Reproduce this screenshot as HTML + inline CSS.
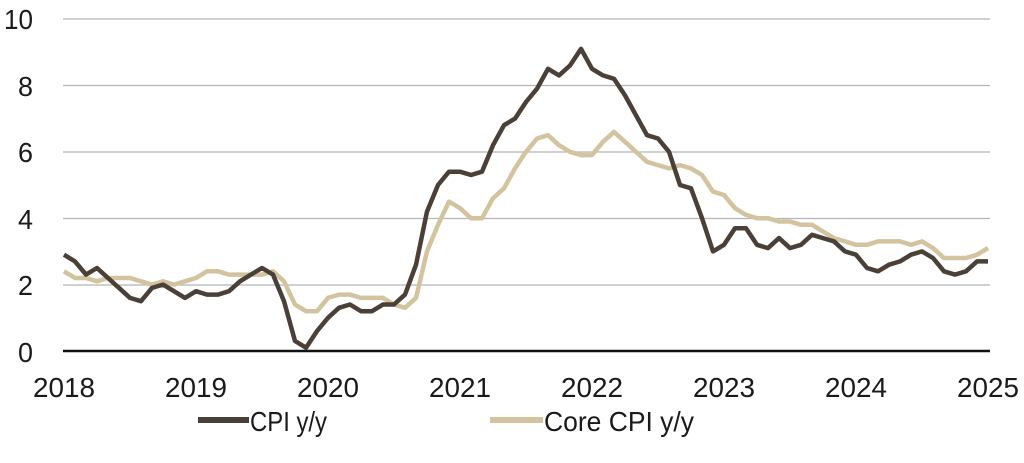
<!DOCTYPE html>
<html><head><meta charset="utf-8"><style>
html,body{margin:0;padding:0;background:#fff;width:1024px;height:463px;overflow:hidden}
svg text{font-family:"Liberation Sans Narrow","Liberation Sans",sans-serif;fill:#1a1a1a}
</style></head><body>
<svg id="c" width="1024" height="463" viewBox="0 0 1024 463">
<g stroke="#b5b5b5" stroke-width="1.3">
<line x1="63" x2="990" y1="19" y2="19"/><line x1="63" x2="990" y1="85.5" y2="85.5"/>
<line x1="63" x2="990" y1="152" y2="152"/><line x1="63" x2="990" y1="218.5" y2="218.5"/>
<line x1="63" x2="990" y1="285" y2="285"/>
</g>
<g font-size="28" text-anchor="end" lengthAdjust="spacingAndGlyphs">
<text x="33" y="29" textLength="29" lengthAdjust="spacingAndGlyphs">10</text>
<text x="33" y="96" textLength="15" lengthAdjust="spacingAndGlyphs">8</text>
<text x="33" y="162" textLength="15" lengthAdjust="spacingAndGlyphs">6</text>
<text x="33" y="229" textLength="15" lengthAdjust="spacingAndGlyphs">4</text>
<text x="33" y="295" textLength="15" lengthAdjust="spacingAndGlyphs">2</text>
<text x="33" y="362" textLength="15" lengthAdjust="spacingAndGlyphs">0</text>
</g>
<g font-size="28" text-anchor="middle" id="xl"></g>
<polyline id="core" fill="none" stroke="#d3c39f" stroke-width="4.5" stroke-linejoin="round"/>
<polyline id="cpi" fill="none" stroke="#4a4037" stroke-width="4.5" stroke-linejoin="round"/>
<line x1="63" x2="990" y1="351" y2="351" stroke="#111" stroke-width="2.5"/>
<line x1="198" x2="249" y1="420" y2="420" stroke="#4a4037" stroke-width="6"/>
<text x="250" y="431" font-size="28" textLength="77" lengthAdjust="spacingAndGlyphs">CPI y/y</text>
<line x1="490" x2="543" y1="420" y2="420" stroke="#d3c39f" stroke-width="6"/>
<text x="544" y="431" font-size="28" textLength="150" lengthAdjust="spacingAndGlyphs">Core CPI y/y</text>
</svg>
<script>
var cpi=[2.9,2.7,2.3,2.5,2.2,1.9,1.6,1.5,1.9,2.0,1.8,1.6,1.8,1.7,1.7,1.8,2.1,2.3,2.5,2.3,1.5,0.3,0.1,0.6,1.0,1.3,1.4,1.2,1.2,1.4,1.4,1.7,2.6,4.2,5.0,5.4,5.4,5.3,5.4,6.2,6.8,7.0,7.5,7.9,8.5,8.3,8.6,9.1,8.5,8.3,8.2,7.7,7.1,6.5,6.4,6.0,5.0,4.9,4.0,3.0,3.2,3.7,3.7,3.2,3.1,3.4,3.1,3.2,3.5,3.4,3.3,3.0,2.9,2.5,2.4,2.6,2.7,2.9,3.0,2.8,2.4,2.3,2.4,2.7,2.7];
var core=[2.4,2.2,2.2,2.1,2.2,2.2,2.2,2.1,2.0,2.1,2.0,2.1,2.2,2.4,2.4,2.3,2.3,2.3,2.3,2.4,2.1,1.4,1.2,1.2,1.6,1.7,1.7,1.6,1.6,1.6,1.4,1.3,1.6,3.0,3.8,4.5,4.3,4.0,4.0,4.6,4.9,5.5,6.0,6.4,6.5,6.2,6.0,5.9,5.9,6.3,6.6,6.3,6.0,5.7,5.6,5.5,5.6,5.5,5.3,4.8,4.7,4.3,4.1,4.0,4.0,3.9,3.9,3.8,3.8,3.6,3.4,3.3,3.2,3.2,3.3,3.3,3.3,3.2,3.3,3.1,2.8,2.8,2.8,2.9,3.1];
function pts(a){return a.map(function(v,i){return (64+i*11)+","+(351-v*33.2).toFixed(1)}).join(" ")}
document.getElementById("cpi").setAttribute("points",pts(cpi));
document.getElementById("core").setAttribute("points",pts(core));
var g=document.getElementById("xl"),s="";
for(var y=0;y<8;y++){s+='<text x="'+(64+y*132)+'" y="397" textLength="62" lengthAdjust="spacingAndGlyphs">'+(2018+y)+'</text>';}
g.innerHTML=s;
</script>
</body></html>
